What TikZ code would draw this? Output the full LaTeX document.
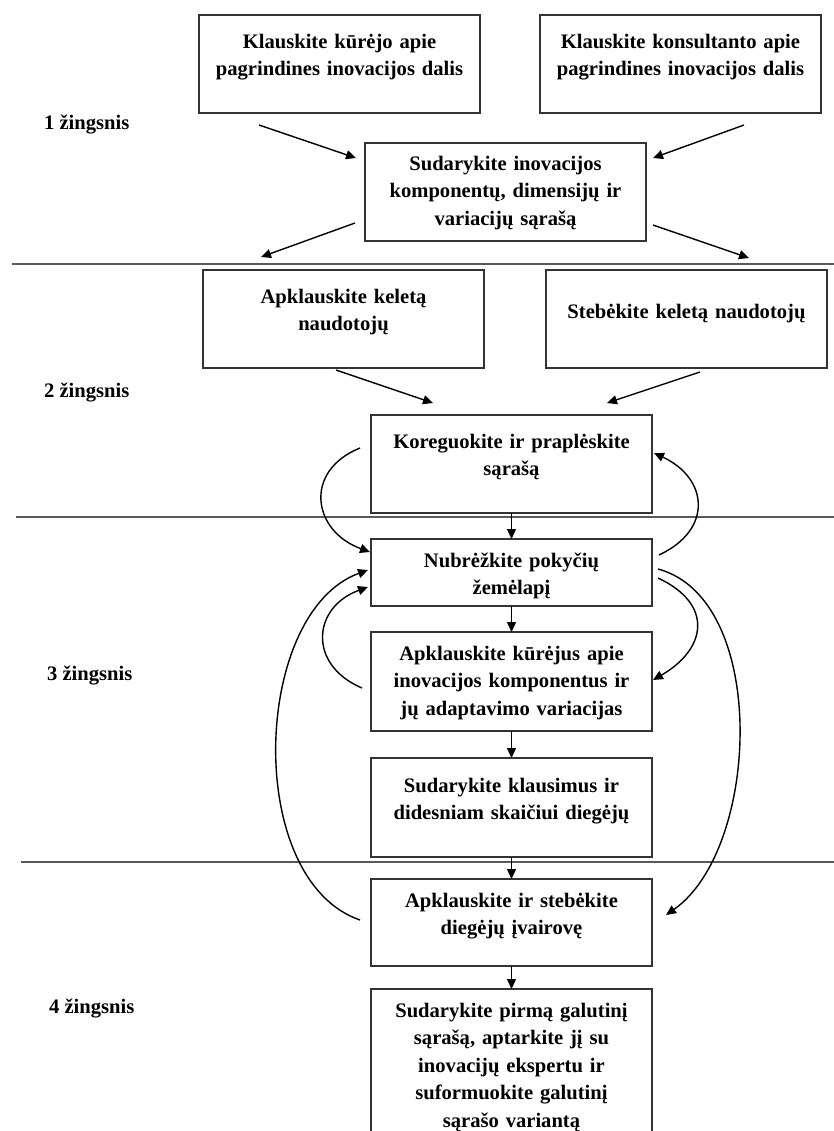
\documentclass[tikz,border=0pt]{standalone}
\usepackage{fontspec}
\setmainfont{Liberation Serif}
\usepackage{tikz}
\usetikzlibrary{arrows.meta, positioning, calc}

\begin{document}
\begin{tikzpicture}[
    x=0.5pt, y=-0.5pt,
    stepbox/.style={draw=black!80, line width=0.7pt, align=center, text width=140.5pt, inner xsep=0pt, inner ysep=0pt, outer sep=0pt, font=\fontsize{10.3}{13.75}\selectfont\bfseries},
    steplabel/.style={anchor=west, font=\fontsize{10.3}{13.75}\selectfont\bfseries},
    arr/.style={-{Triangle[length=5pt, width=4.5pt]}, line width=0.7pt},
    divider/.style={line width=1pt, color=black!65},
]
    \useasboundingbox (0,0) rectangle (834,1131);
    \clip (0,0) rectangle (834,1131);
    \fill[white] (0,0) rectangle (834,1131);

    % Step 1
    \node[stepbox, anchor=north west, text height=16.5pt, text depth=32.5pt] (askdev) at (199,15) {Klauskite kūrėjo apie\\pagrindines inovacijos dalis};
    \node[stepbox, right=30pt of askdev, text height=16.5pt, text depth=32.5pt] (askcons) {Klauskite konsultanto apie\\pagrindines inovacijos dalis};
    \node[stepbox, anchor=north west, text height=13.5pt, text depth=35.5pt] (list) at (365,143) {Sudarykite inovacijos\\komponentų, dimensijų ir\\variacijų sąrašą};

    % Step 2
    \node[stepbox, anchor=north west, text height=16.5pt, text depth=32.5pt] (users) at (203,270) {Apklauskite keletą\\naudotojų};
    \node[stepbox, right=31pt of users, text height=24pt, text depth=25pt] (watch) {Stebėkite keletą naudotojų};
    \node[stepbox, anchor=north west, text height=16.5pt, text depth=32.5pt] (revise) at (371,415) {Koreguokite ir praplėskite\\sąrašą};

    % Step 3
    \node[stepbox, below=13pt of revise, text height=14pt, text depth=19.5pt] (map) {Nubrėžkite pokyčių\\žemėlapį};
    \node[stepbox, below=13pt of map, text height=14pt, text depth=35.5pt] (devs) {Apklauskite kūrėjus apie\\inovacijos komponentus ir\\jų adaptavimo variacijas};
    \node[stepbox, below=13.5pt of devs, text height=17pt, text depth=32.5pt] (questions) {Sudarykite klausimus ir\\didesniam skaičiui diegėjų};

    % Step 4
    \node[stepbox, below=11pt of questions, text height=14pt, text depth=29.5pt] (survey) {Apklauskite ir stebėkite\\diegėjų įvairovę};
    \node[stepbox, below=11.5pt of survey, text height=14pt, text depth=64pt] (final) {Sudarykite pirmą galutinį\\sąrašą, aptarkite jį su\\inovacijų ekspertu ir\\suformuokite galutinį\\sąrašo variantą};

    % Step labels
    \node[steplabel] (step1) at (37,125) {1 žingsnis};
    \node[steplabel] (step2) at (37,393) {2 žingsnis};
    \node[steplabel] (step3) at (40,675) {3 žingsnis};
    \node[steplabel] (step4) at (42,1008) {4 žingsnis};

    % Dividers
    \draw[divider] (12,264) -- (834,264);
    \draw[divider] (16,517) -- (834,517);
    \draw[divider] (21,862) -- (834,862);

    \coordinate (outleft) at (261,257);
    \coordinate (outright) at (749,258);

    \draw[arr] ($(askdev.south west)+(60,12)$) -- ($(list.north west)+(-9,15)$);
    \draw[arr] ($(askcons.south east)+(-77,12)$) -- ($(list.north east)+(7,15)$);
    \draw[arr] ($(list.south west)+(-10,-18)$) -- (outleft);
    \draw[arr] ($(list.south east)+(7,-16)$) -- (outright);
    \draw[arr] ($(users.south west)+(133,2)$) -- ($(revise.north west)+(62,-12)$);
    \draw[arr] ($(watch.south west)+(154,4)$) -- ($(revise.north east)+(-45,-12)$);

    \draw[arr] (revise) -- (map);
    \draw[arr] (map) -- (devs);
    \draw[arr] (devs) -- (questions);
    \draw[arr] (questions) -- (survey);
    \draw[arr] (survey) -- (final);

    % Feedback loops
    \draw[arr] ($(revise.north west)+(-11,33)$) to[out=202, in=160, looseness=1.5] ($(map.north west)+(-1,13)$);
    \draw[arr] ($(map.north east)+(7,16)$) to[out=25, in=-25, looseness=1.5] ($(revise.north east)+(2,38)$);
    \draw[arr] ($(map.north east)+(6,30)$) to[out=-15, in=35, looseness=0.85] ($(survey.north east)+(14,36)$);
    \draw[arr] ($(map.north east)+(6,39)$) to[out=-25, in=30, looseness=1.55] ($(devs.north east)+(1,48)$);
    \draw[arr] ($(devs.north west)+(-9,56)$) to[out=157, in=200, looseness=1.5] ($(map.north west)+(-3,48)$);
    \draw[arr] ($(survey.north west)+(-11,41)$) to[out=161, in=200, looseness=0.9] ($(map.north west)+(-3,31)$);
\end{tikzpicture}
\end{document}
